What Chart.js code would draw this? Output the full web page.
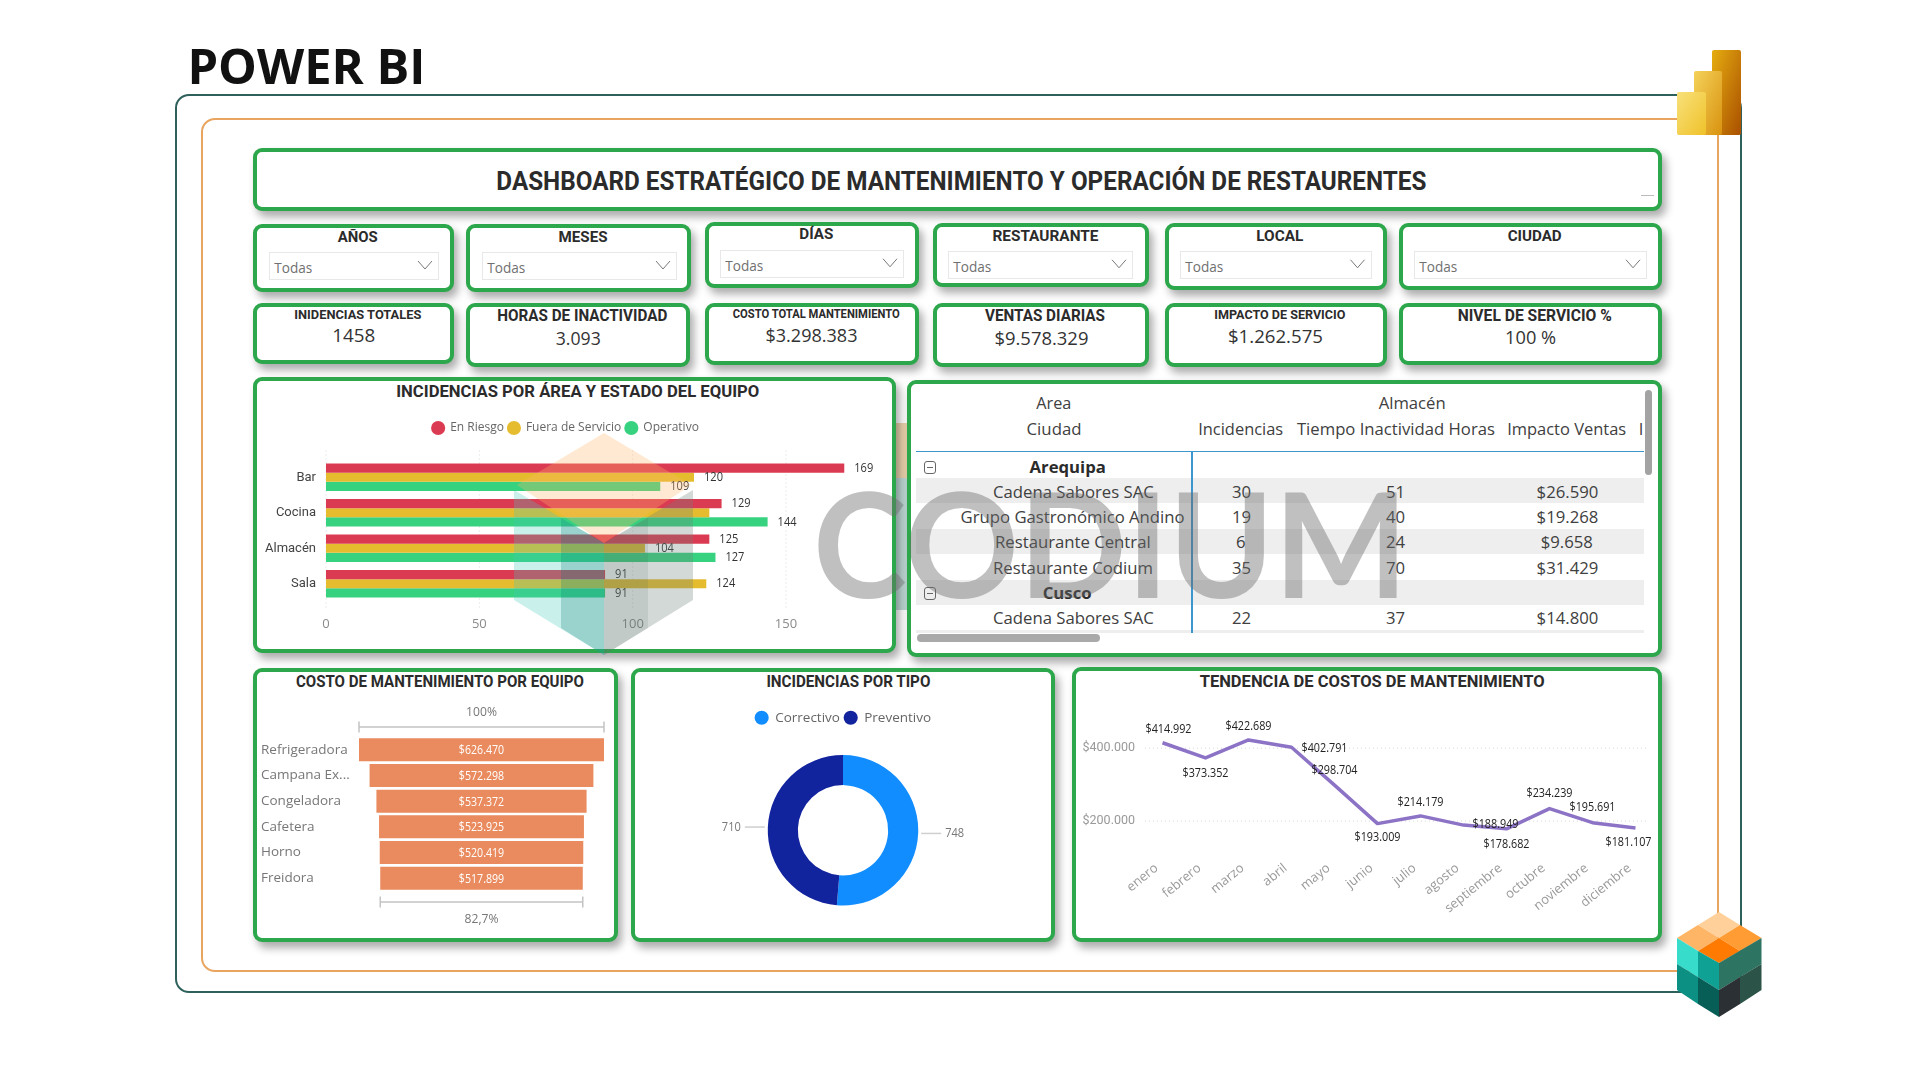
<!DOCTYPE html>
<html lang="es"><head><meta charset="utf-8"><title>Dashboard</title>
<script src="https://cdn.jsdelivr.net/npm/chart.js@4"></script>
<style>
html,body{margin:0;padding:0;background:#fff;width:1920px;height:1080px;overflow:hidden;font-family:"Open Sans",sans-serif}
#stage{position:absolute;left:0;top:0;width:1920px;height:1080px;overflow:hidden}
.abs{position:absolute;box-sizing:border-box}
.panel{position:absolute;box-sizing:border-box;background:#fff;border:4px solid #2DA74B;border-radius:9px;box-shadow:4px 6px 8px rgba(0,0,0,.33)}
.t{position:absolute;white-space:nowrap;line-height:1;transform-origin:center center}
canvas{position:absolute;display:block}
svg{position:absolute;left:0;top:0}
</style></head><body><div id="stage"></div>
<script>
// ---------- data ----------
const areaCategories=["Bar","Cocina","Almacén","Sala"];
const enRiesgo=[169,129,125,91];
const fueraServicio=[120,125,104,124];
const operativo=[109,144,127,91];
const areaTicks=[0,50,100,150];
const equipos=["Refrigeradora","Campana Ex...","Congeladora","Cafetera","Horno","Freidora"];
const costoEquipo=[626470,572298,537372,523925,520419,517899];
const tipos=["Correctivo","Preventivo"];
const incidenciasTipo=[748,710];
const meses=["enero","febrero","marzo","abril","mayo","junio","julio","agosto","septiembre","octubre","noviembre","diciembre"];
const costoMes=[414992,373352,422689,402791,298704,193009,214179,188949,178682,234239,195691,181107];
const costoTicks=[200000,400000];
const tablaFilas=[
 ["Arequipa",null,null,null],
 ["Cadena Sabores SAC",30,51,"$26.590"],
 ["Grupo Gastronómico Andino",19,40,"$19.268"],
 ["Restaurante Central",6,24,"$9.658"],
 ["Restaurante Codium",35,70,"$31.429"],
 ["Cusco",null,null,null],
 ["Cadena Sabores SAC",22,37,"$14.800"]
];
// ---------- helpers ----------
const stage=document.getElementById('stage');
const FONT_H='Roboto,sans-serif', FONT='"Open Sans",sans-serif';
function box(x0,y0,x1,y1,css){const d=document.createElement('div');d.className='abs';d.style.cssText=`left:${x0}px;top:${y0}px;width:${x1-x0}px;height:${y1-y0}px;`+(css||'');stage.appendChild(d);return d;}
function panel(x0,y0,x1,y1){const d=document.createElement('div');d.className='panel';d.style.cssText=`left:${x0}px;top:${y0}px;width:${x1-x0}px;height:${y1-y0}px;`;stage.appendChild(d);return d;}
function label(text,cx,cy,w,size,weight,color,font,extra){
 const s=document.createElement('span');s.className='t';s.textContent=text;
 s.style.cssText=`font:${weight} ${size}px ${font||FONT_H};color:${color||'#222'};left:0;top:0;`+(extra||'');
 stage.appendChild(s);
 const mw=s.getBoundingClientRect().width, mh=s.getBoundingClientRect().height;
 const f=w?w/mw:1;
 s.style.left=(cx-mw/2)+'px';s.style.top=(cy-mh/2)+'px';s.style.transform=`scaleX(${f})`;
 return s;
}
function addCanvas(x0,y0,x1,y1){const c=document.createElement('canvas');c.width=x1-x0;c.height=y1-y0;c.style.cssText=`left:${x0}px;top:${y0}px;width:${x1-x0}px;height:${y1-y0}px;`;stage.appendChild(c);return c;}
function svgLayer(html,z){const n='http://www.w3.org/2000/svg';const s=document.createElementNS(n,'svg');s.setAttribute('width',1920);s.setAttribute('height',1080);s.style.zIndex=z||'auto';s.style.pointerEvents='none';s.innerHTML=html;stage.appendChild(s);return s;}

// ---------- frames ----------
box(175,94,1742,993,'border:2px solid #2F615C;border-radius:14px;');
box(201,118,1719,972,'border:2px solid #E9A55F;border-radius:14px;');
box(893,423,908,478,'background:#EBD3AE;');
box(893,478,908,610,'background:#BFD9D5;');
label("POWER BI",306,64.5,238,49,700,'#111',FONT);

// ---------- header, slicers, KPIs ----------
panel(253,148,1662,211);
label("DASHBOARD ESTRATÉGICO DE MANTENIMIENTO Y OPERACIÓN DE RESTAURENTES",961,180.5,930,26,700,'#2b2b2b');
box(1641,195,1654,196,'background:#bbb;');
const slicers=[
 ["AÑOS",253,454,224,292,358,40,237,268.5,439,252,280],
 ["MESES",466,691,224,292,583.5,49,237,482,677,252,280],
 ["DÍAS",705,919,222,288,816,34,234,719.5,904,249.5,278],
 ["RESTAURANTE",933,1149,223,287,1045,106,236,948,1133,250.5,279],
 ["LOCAL",1165,1387,223,290,1280,47,236,1180,1371.5,250.5,279],
 ["CIUDAD",1399,1662,223,290,1534.6,54,236,1414,1647,250.5,279]
];
let chev='';
slicers.forEach(s=>{
 panel(s[1],s[3],s[2],s[4]);
 label(s[0],s[5],s[7],s[6],15.5,700,'#2b2b2b');
 box(s[8],s[10],s[9],s[11],'border:1px solid #e8e8e8;');
 label("Todas",s[8]+24.5,(s[10]+s[11])/2+1.5,38,14.5,400,'#707070',FONT);
 const cx=s[9]-14,cy=(s[10]+s[11])/2-1;
 chev+=`<polyline points="${cx-7},${cy-4} ${cx},${cy+4} ${cx+7},${cy-4}" fill="none" stroke="#777" stroke-width="1"/>`;
});
const kpis=[
 ["INIDENCIAS TOTALES",253,454,303,364,357.5,127,314,13.5,"1458",353.6,43,335],
 ["HORAS DE INACTIVIDAD",466,690,303,367,582.5,170,315,16,"3.093",578.5,45,338],
 ["COSTO TOTAL MANTENIMIENTO",705,919,303,365,816,167,313,12.5,"$3.298.383",811.5,92,335],
 ["VENTAS DIARIAS",933,1149,303,367,1045,120,315,16,"$9.578.329",1041,94,338],
 ["IMPACTO DE SERVICIO",1165,1387,303,367,1280,131,314,13,"$1.262.575",1275.5,95,336],
 ["NIVEL DE SERVICIO %",1399,1662,303,365,1535,154,315,16,"100 %",1530.5,51,337]
];
kpis.forEach(k=>{
 panel(k[1],k[3],k[2],k[4]);
 label(k[0],k[5],k[7],k[6],k[8],700,'#2b2b2b');
 label(k[9],k[10],k[12],k[11],19,400,'#333',FONT);
});

// ---------- chart panels ----------
panel(253,377,896,653);
panel(907,380,1662,657);
panel(253,668,618,942);
panel(631,668,1055,942);
panel(1072,667,1662,942);
label("INCIDENCIAS POR ÁREA Y ESTADO DEL EQUIPO",578,391,363,16.5,700,'#2b2b2b');
label("COSTO DE MANTENIMIENTO POR EQUIPO",440,681,288,16,700,'#2b2b2b');
label("INCIDENCIAS POR TIPO",848,681,164,16,700,'#2b2b2b');
label("TENDENCIA DE COSTOS DE MANTENIMIENTO",1372,681,345,16.5,700,'#2b2b2b');

// ---------- table ----------
box(916,478,1644,503,'background:#eeeeee;');
box(916,529,1644,554,'background:#eeeeee;');
box(916,580,1644,605,'background:#eeeeee;');
box(916,630,1644,633,'background:#eeeeee;');
box(916,451,1644,452,'background:#3E96CE;');
box(1191,451,1192.5,633,'background:#3E96CE;');
box(1645,390,1652,475,'background:#a3a3a3;border-radius:4px;');
box(917,634,1100,642,'background:#a9a9a9;border-radius:4px;');
const T='#404040';
label("Area",1054,402,35,16.5,400,T,FONT);
label("Ciudad",1054,428,55,16.5,400,T,FONT);
label("Almacén",1412,402,67,16.5,400,T,FONT);
label("Incidencias",1241,428,85,16.5,400,T,FONT);
label("Tiempo Inactividad Horas",1395.5,428,198,16.5,400,T,FONT);
label("Impacto Ventas",1567,428,119,16.5,400,T,FONT);
label("I",1641,428,null,16.5,400,T,FONT);
const rowY=[466,491,516,541,567,592,617];
const tw=224/ (function(){const s=label("Grupo Gastronómico Andino",-900,-900,null,16.5,400,T,FONT);const w=s.getBoundingClientRect().width;s.remove();return w;})();
tablaFilas.forEach((r,i)=>{
 if(r[1]===null){
  const m=label(r[0],1067.5,rowY[i],null,16.5,700,'#2b2b2b',FONT);m.style.transform=`scaleX(${tw})`;
  box(924,rowY[i]-5.5,936,rowY[i]+7.5,'border:1px solid #666;border-radius:3px;');
  box(927,rowY[i]+.5,933,rowY[i]+1.5,'background:#666;');
 }else{
  const m=label(r[0],1073,rowY[i],null,16.5,400,T,FONT);m.style.transform=`scaleX(${tw})`;
  [[r[1],1241],[r[2],1395],[r[3],1567]].forEach(c=>{const n=label(String(c[0]),c[1],rowY[i],null,16.5,400,T,FONT);n.style.transform=`scaleX(${tw})`;});
 }
});

// ---------- chart helpers ----------
Chart.defaults.font.family='"Open Sans",sans-serif';
Chart.defaults.animation=false;
Chart.defaults.responsive=false;
const legendSpacer=extra=>({id:'legendSpacer',beforeInit(chart){const f=chart.legend.fit;chart.legend.fit=function(){f.call(this);this.height+=extra;};}});
const dotted=(ctx,x0,y0,x1,y1)=>{ctx.save();ctx.strokeStyle='#d8d8d8';ctx.lineWidth=1;ctx.setLineDash([1,3]);ctx.beginPath();ctx.moveTo(x0,y0);ctx.lineTo(x1,y1);ctx.stroke();ctx.restore();};
const narrowText=(ctx,text,x,y,sx)=>{ctx.save();ctx.translate(x,y);ctx.scale(sx,1);ctx.fillText(text,0,0);ctx.restore();};

// ---------- bars: incidencias por área ----------
const sinEtiqueta=[[1,1]];
new Chart(addCanvas(253,377,896,653),{
 type:'bar',
 data:{labels:areaCategories,datasets:[
  {label:"En Riesgo",data:enRiesgo,backgroundColor:'#DB3B52'},
  {label:"Fuera de Servicio",data:fueraServicio,backgroundColor:'#E6BC2F'},
  {label:"Operativo",data:operativo,backgroundColor:'#37D27F'}]},
 options:{indexAxis:'y',
  layout:{padding:{top:41,right:18}},
  datasets:{bar:{categoryPercentage:.771,barPercentage:1}},
  plugins:{tooltip:{enabled:false},
   legend:{position:'top',labels:{usePointStyle:true,pointStyle:'circle',boxHeight:10,padding:4,color:'#666',font:{size:12}}}},
  scales:{
   x:{min:0,max:180,afterBuildTicks:s=>{s.ticks=areaTicks.map(v=>({value:v}));},grid:{display:false,drawTicks:false},border:{display:false},ticks:{padding:15,color:'#8a8a8a',font:{size:13}},afterFit:s=>{s.height=51.5;}},
   y:{grid:{display:false,drawTicks:false},border:{display:false},ticks:{padding:10,color:'#444',font:{size:13,family:'Roboto'}},afterFit:s=>{s.width=73;}}
  }},
 plugins:[legendSpacer(15.5),{id:'grid',beforeDatasetsDraw(c){const a=c.chartArea,x=c.scales.x;areaTicks.forEach(v=>{const p=x.getPixelForValue(v);dotted(c.ctx,p,a.top-9,p,a.bottom+7);});}},
 {id:'vals',afterDatasetsDraw(c){const ctx=c.ctx;ctx.save();ctx.font='13px "Open Sans"';ctx.fillStyle='#333';ctx.textAlign='left';ctx.textBaseline='middle';
  c.data.datasets.forEach((d,i)=>c.getDatasetMeta(i).data.forEach((b,j)=>{if(sinEtiqueta.some(q=>q[0]===i&&q[1]===j))return;narrowText(ctx,d.data[j],b.x+10,b.y,.85);}));ctx.restore();}}]
});

// ---------- funnel: costo por equipo ----------
const maxCosto=Math.max(...costoEquipo), minCosto=Math.min(...costoEquipo);
const fmt=v=>'$'+String(v).replace(/\B(?=(\d{3})+$)/g,'.');
const bracket=(ctx,x0,x1,y)=>{ctx.save();ctx.strokeStyle='#c4c4c4';ctx.lineWidth=1.5;ctx.beginPath();ctx.moveTo(x0,y);ctx.lineTo(x1,y);ctx.moveTo(x0,y-5.5);ctx.lineTo(x0,y+5.5);ctx.moveTo(x1,y-5.5);ctx.lineTo(x1,y+5.5);ctx.stroke();ctx.restore();};
new Chart(addCanvas(253,668,618,942),{
 type:'bar',
 data:{labels:equipos,datasets:[{data:costoEquipo.map(v=>[-v/2,v/2]),backgroundColor:'#E98B5E'}]},
 options:{indexAxis:'y',layout:{padding:{top:69,bottom:51,left:8,right:14}},
  datasets:{bar:{categoryPercentage:1,barPercentage:.895}},
  plugins:{legend:{display:false},tooltip:{enabled:false}},
  scales:{x:{display:false,min:-maxCosto/2,max:maxCosto/2},
   y:{grid:{display:false,drawTicks:false},border:{display:false},ticks:{crossAlign:'far',padding:0,color:'#777',font:{size:13.5}},afterFit:s=>{s.width=98;}}}},
 plugins:[{id:'funnel',afterDatasetsDraw(c){const ctx=c.ctx,x=c.scales.x,a=c.chartArea;ctx.save();ctx.textAlign='center';ctx.textBaseline='middle';
  ctx.font='12.5px "Open Sans"';ctx.fillStyle='#fff';
  c.getDatasetMeta(0).data.forEach((b,j)=>narrowText(ctx,fmt(costoEquipo[j]),x.getPixelForValue(0),b.y+1,.85));
  bracket(ctx,x.getPixelForValue(-maxCosto/2),x.getPixelForValue(maxCosto/2),a.top-10);
  bracket(ctx,x.getPixelForValue(-minCosto/2),x.getPixelForValue(minCosto/2),a.bottom+11);
  ctx.font='13.5px "Open Sans"';ctx.fillStyle='#777';
  narrowText(ctx,"100%",x.getPixelForValue(0),a.top-25,.9);
  narrowText(ctx,"82,7%",x.getPixelForValue(0),a.bottom+28,.9);ctx.restore();}}]
});

// ---------- doughnut: incidencias por tipo ----------
new Chart(addCanvas(631,668,1055,942),{
 type:'doughnut',
 data:{labels:tipos,datasets:[{data:incidenciasTipo,backgroundColor:['#118DFF','#12239E'],borderWidth:0}]},
 options:{cutout:'60%',layout:{padding:{top:39,bottom:36.5,left:0,right:0}},
  plugins:{tooltip:{enabled:false},legend:{position:'top',labels:{usePointStyle:true,pointStyle:'circle',boxHeight:10,padding:4,color:'#666',font:{size:13.5}}}}},
 plugins:[legendSpacer(20.5),{id:'lead',afterDatasetsDraw(c){const ctx=c.ctx;ctx.save();ctx.font='13px "Open Sans"';ctx.fillStyle='#777';ctx.textBaseline='middle';
  c.getDatasetMeta(0).data.forEach((el,i)=>{const m=(el.startAngle+el.endAngle)/2,r=el.outerRadius,px=el.x+Math.cos(m)*(r+3),py=el.y+Math.sin(m)*(r+3),dir=Math.cos(m)>=0?1:-1;
   ctx.strokeStyle='#cfcfcf';ctx.lineWidth=1.5;ctx.beginPath();ctx.moveTo(px,py);ctx.lineTo(px+dir*20,py);ctx.stroke();
   ctx.textAlign=dir>0?'left':'right';narrowText(ctx,incidenciasTipo[i],px+dir*24,py,.85);});ctx.restore();}}]
});

// ---------- line: tendencia ----------
const desplazamiento=[[6,-13],[0,15],[0,-14],[33,1],[0,-15],[0,14],[0,-14],[32,-1],[0,15],[0,-15],[0,-15],[-7,14]];
new Chart(addCanvas(1072,667,1662,942),{
 type:'line',
 data:{labels:meses,datasets:[{data:costoMes,borderColor:'#8C73C6',borderWidth:3.5,pointRadius:0,tension:0,fill:false,borderJoinStyle:'round'}]},
 options:{layout:{padding:{top:63,right:5,left:0}},
  plugins:{legend:{display:false},tooltip:{enabled:false}},
  scales:{
   x:{offset:true,grid:{display:false,drawTicks:false},border:{display:false},ticks:{autoSkip:false,minRotation:39,maxRotation:39,padding:3,labelOffset:-6,color:'#999',font:{size:13}},afterFit:s=>{s.height=84.5;}},
   y:{min:100000,max:450000,afterBuildTicks:s=>{s.ticks=costoTicks.map(v=>({value:v}));},grid:{display:false,drawTicks:false},border:{display:false},
      ticks:{padding:6,color:'#999',font:{size:12.5,family:'Roboto'},callback:v=>fmt(v)},afterFit:s=>{s.width=69;}}
  }},
 plugins:[{id:'grid',beforeDatasetsDraw(c){const y=c.scales.y;costoTicks.forEach(v=>{const p=y.getPixelForValue(v);dotted(c.ctx,c.chartArea.left+4,p,c.chartArea.right-9,p);});}},
 {id:'vals',afterDatasetsDraw(c){const ctx=c.ctx;ctx.save();ctx.font='13px "Open Sans"';ctx.fillStyle='#222';ctx.textAlign='center';ctx.textBaseline='middle';
  c.getDatasetMeta(0).data.forEach((p,i)=>narrowText(ctx,fmt(costoMes[i]),p.x+desplazamiento[i][0],p.y+desplazamiento[i][1],.83));ctx.restore();}}]
});

// ---------- watermark and logos ----------
svgLayer(chev,2);
const wm=label("CODIUM",1110,542,595,145,700,'rgba(105,105,105,.42)','Lato,sans-serif');wm.style.zIndex=3;
svgLayer(`<g>
<polygon points="604,433 691,485 604,543 517,485" fill="#FFB56B" opacity=".30"/>
<polygon points="514,490 604,543 604,655 514,600" fill="#3FC9BC" opacity=".28"/>
<polygon points="693,490 604,543 604,655 693,600" fill="#6C8078" opacity=".30"/>
<polygon points="561,518 604,543 604,655 561,628" fill="#0D7D72" opacity=".25"/>
<polygon points="604,543 648,518 648,628 604,655" fill="#3C5A52" opacity=".12"/>
</g>`,3);
svgLayer(`
<defs><linearGradient id="a" x1="0" x2="1" y1="0" y2="1"><stop offset="0" stop-color="#E6AD10"/><stop offset="1" stop-color="#A94F00"/></linearGradient>
<linearGradient id="b" x1="0" x2="1" y1="0" y2="1"><stop offset="0" stop-color="#F4D25A"/><stop offset="1" stop-color="#D9920F"/></linearGradient>
<linearGradient id="c" x1="0" x2="1" y1="0" y2="1"><stop offset="0" stop-color="#F8E07A"/><stop offset="1" stop-color="#EFC22A"/></linearGradient></defs>
<rect x="1712" y="50" width="29" height="85" rx="2" fill="url(#a)"/>
<rect x="1694" y="71" width="28" height="64" rx="2" fill="url(#b)"/>
<rect x="1677" y="92" width="29" height="43" rx="2" fill="url(#c)"/>
<polygon points="1719,912 1740,925 1719,938 1698,925" fill="#FFD09A"/>
<polygon points="1698,925 1719,938 1698,951 1677,938" fill="#FFB566"/>
<polygon points="1740,925 1761.5,938 1740,951 1719,938" fill="#FF9C33"/>
<polygon points="1719,938 1740,951 1719,963 1698,951" fill="#FF7A00"/>
<polygon points="1677,938 1698,951 1698,977 1677,964" fill="#38DCCB"/>
<polygon points="1698,951 1719,963 1719,990 1698,977" fill="#0FA193"/>
<polygon points="1677,964 1698,977 1698,1004 1677,990" fill="#0C9084"/>
<polygon points="1698,977 1719,990 1719,1017 1698,1004" fill="#075E57"/>
<polygon points="1719,963 1761.5,938 1761.5,964 1719,990" fill="#2E7462"/>
<polygon points="1719,990 1740,977 1740,1004 1719,1017" fill="#2B3034"/>
<polygon points="1740,977 1761.5,964 1761.5,990 1740,1004" fill="#2C5347"/>
`,4);
</script></body></html>
